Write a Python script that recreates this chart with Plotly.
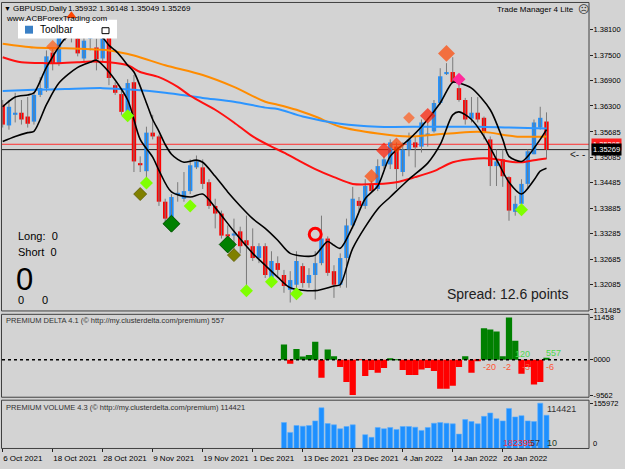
import plotly.graph_objects as go

W, H = 625, 469
FONT = "Liberation Sans, Arial, sans-serif"

# ---------------- data ----------------
tick_idx = [0, 8, 16, 24, 32, 40, 48, 56, 64, 72, 80]
tick_labels = ["6 Oct 2021", "18 Oct 2021", "28 Oct 2021", "9 Nov 2021", "19 Nov 2021",
               "1 Dec 2021", "13 Dec 2021", "23 Dec 2021", "4 Jan 2022", "14 Jan 2022",
               "26 Jan 2022"]
price_ticks = [1.38100, 1.37500, 1.36900, 1.36300, 1.35685, 1.35085, 1.34485,
               1.33885, 1.33285, 1.32685, 1.32085, 1.31485]

open_ = [1.3633, 1.3584, 1.3609, 1.3614, 1.3605, 1.3593, 1.3656, 1.3672, 1.3756, 1.3731,
         1.3812, 1.3808, 1.3789, 1.3742, 1.3789, 1.3768, 1.3742, 1.3794, 1.3679, 1.3658,
         1.3616, 1.3686, 1.3495, 1.3476, 1.3567, 1.3558, 1.3404, 1.3364, 1.3420, 1.3411,
         1.3429, 1.3485, 1.3485, 1.3450, 1.3394, 1.3376, 1.3327, 1.3324, 1.3334, 1.3313,
         1.3299, 1.3271, 1.3299, 1.3224, 1.3259, 1.3231, 1.3196, 1.3208, 1.3252, 1.3212,
         1.3231, 1.3259, 1.3317, 1.3240, 1.3208, 1.3271, 1.3348, 1.3406, 1.3394, 1.3446,
         1.3434, 1.3488, 1.3492, 1.3534, 1.3474, 1.3527, 1.3544, 1.3534, 1.3560, 1.3570,
         1.3637, 1.3705, 1.3710, 1.3672, 1.3644, 1.3600, 1.3614, 1.3602, 1.3551, 1.3488,
         1.3504, 1.3462, 1.3380, 1.3399, 1.3446, 1.3516, 1.3579, 1.35932]
high = [1.3644, 1.3644, 1.3661, 1.3644, 1.3651, 1.3663, 1.3698, 1.3761, 1.3768, 1.3812,
        1.3826, 1.3833, 1.3801, 1.3794, 1.3808, 1.3789, 1.3801, 1.3801, 1.3686, 1.3668,
        1.3693, 1.3703, 1.3511, 1.3581, 1.3609, 1.3562, 1.3411, 1.3422, 1.3450, 1.3474,
        1.3504, 1.3513, 1.3504, 1.3457, 1.3411, 1.3383, 1.3348, 1.3364, 1.3345, 1.3371,
        1.3341, 1.3306, 1.3306, 1.3287, 1.3275, 1.3243, 1.3240, 1.3287, 1.3259, 1.3247,
        1.3287, 1.3371, 1.3322, 1.3254, 1.3282, 1.3364, 1.3439, 1.3415, 1.3457, 1.3453,
        1.3504, 1.3511, 1.3551, 1.3544, 1.3544, 1.3567, 1.3558, 1.3598, 1.3591, 1.3644,
        1.3719, 1.3731, 1.3745, 1.3684, 1.3649, 1.3651, 1.3651, 1.3605, 1.3558, 1.3527,
        1.3527, 1.3464, 1.3418, 1.3457, 1.3527, 1.3598, 1.3628, 1.36148]
low = [1.3579, 1.3574, 1.3591, 1.3586, 1.3579, 1.3586, 1.3651, 1.3663, 1.3714, 1.3724,
       1.3784, 1.3780, 1.3747, 1.3735, 1.3761, 1.3714, 1.3735, 1.3679, 1.3656, 1.3609,
       1.3614, 1.3474, 1.3474, 1.3457, 1.3551, 1.3394, 1.3352, 1.3348, 1.3404, 1.3404,
       1.3422, 1.3481, 1.3434, 1.3387, 1.3341, 1.3317, 1.3317, 1.3287, 1.3282, 1.3194,
       1.3264, 1.3259, 1.3224, 1.3217, 1.3224, 1.3189, 1.3166, 1.3173, 1.3201, 1.3201,
       1.3173, 1.3254, 1.3229, 1.3177, 1.3201, 1.3201, 1.3341, 1.3380, 1.3387, 1.3427,
       1.3429, 1.3481, 1.3481, 1.3434, 1.3464, 1.3511, 1.3485, 1.3520, 1.3534, 1.3567,
       1.3633, 1.3703, 1.3684, 1.3640, 1.3586, 1.3591, 1.3591, 1.3551, 1.3441, 1.3441,
       1.3439, 1.3359, 1.3371, 1.3394, 1.3434, 1.3516, 1.3574, 1.35049]
close = [1.3586, 1.3628, 1.3614, 1.3598, 1.3588, 1.3656, 1.3672, 1.3747, 1.3731, 1.3798,
         1.3796, 1.3791, 1.3754, 1.3784, 1.3794, 1.3740, 1.3789, 1.3696, 1.3661, 1.3616,
         1.3684, 1.3499, 1.3490, 1.3567, 1.3558, 1.3404, 1.3364, 1.3415, 1.3425, 1.3429,
         1.3490, 1.3499, 1.3446, 1.3394, 1.3376, 1.3324, 1.3322, 1.3329, 1.3299, 1.3301,
         1.3271, 1.3299, 1.3231, 1.3264, 1.3243, 1.3205, 1.3219, 1.3264, 1.3212, 1.3231,
         1.3259, 1.3317, 1.3236, 1.3208, 1.3271, 1.3348, 1.3411, 1.3394, 1.3441, 1.3429,
         1.3488, 1.3504, 1.3544, 1.3481, 1.3527, 1.3551, 1.3532, 1.3591, 1.3565, 1.3637,
         1.3700, 1.3710, 1.3686, 1.3644, 1.3598, 1.3614, 1.3598, 1.3567, 1.3488, 1.3499,
         1.3464, 1.3383, 1.3399, 1.3446, 1.3523, 1.3591, 1.3602, 1.35269]

ask_price = 1.35395
bid_price = 1.35269

ma_orange_idx = [0, 5, 10, 17, 21, 26, 32, 37, 42, 44, 47, 50, 54, 60, 65, 69, 73, 76, 78, 82, 87]
ma_orange_val = [1.3777, 1.3768, 1.3766, 1.3761, 1.3749, 1.3726, 1.3703, 1.3675, 1.3640, 1.3633,
                 1.3621, 1.3605, 1.3581, 1.3565, 1.3558, 1.3562, 1.3567, 1.3569, 1.3567, 1.3558,
                 1.3558]
ma_blue_idx = [0, 5, 10, 16, 21, 26, 32, 37, 42, 44, 48, 54, 60, 68, 76, 81, 87]
ma_blue_val = [1.3665, 1.3668, 1.3670, 1.3672, 1.3668, 1.3661, 1.3649, 1.3640, 1.3626, 1.3623,
               1.3605, 1.3588, 1.3581, 1.3581, 1.3581, 1.3579, 1.3577]
ma_red_idx = [0, 3, 7, 9, 12, 14, 17, 20, 22, 25, 28, 30, 34, 37, 40, 43, 45, 47, 50, 53, 56,
              60, 63, 66, 69, 72, 76, 78, 81, 83, 85, 87]
ma_red_val = [1.3745, 1.3733, 1.3731, 1.3731, 1.3733, 1.3735, 1.3733, 1.3726, 1.3710, 1.3698,
              1.3675, 1.3654, 1.3621, 1.3591, 1.3558, 1.3534, 1.3520, 1.3504, 1.3481, 1.3462,
              1.3446, 1.3446, 1.3450, 1.3462, 1.3476, 1.3497, 1.3506, 1.3506, 1.3499, 1.3497,
              1.3502, 1.3506]
band_upper_idx = [0, 2, 4, 5, 7, 10, 12, 14, 16, 17, 18, 19, 20, 21, 23, 24, 25, 26, 27, 28,
                  29, 31, 32, 34, 36, 38, 40, 42, 44, 46, 49, 50, 52, 53, 54, 56, 58, 60, 62, 65,
                  67, 70, 72, 73, 75, 78, 80, 81, 83, 84, 86, 87]
band_upper_val = [1.3628, 1.3651, 1.3656, 1.3661, 1.3721, 1.3789, 1.3803, 1.3808, 1.3791, 1.3773,
                  1.3761, 1.3745, 1.3726, 1.3710, 1.3637, 1.3598, 1.3570, 1.3539, 1.3516, 1.3504,
                  1.3497, 1.3502, 1.3497, 1.3464, 1.3427, 1.3394, 1.3364, 1.3341, 1.3313, 1.3282,
                  1.3275, 1.3278, 1.3310, 1.3301, 1.3294, 1.3345, 1.3411, 1.3441, 1.3511, 1.3551,
                  1.3581, 1.3637, 1.3686, 1.3684, 1.3672, 1.3621, 1.3551, 1.3511, 1.3499, 1.3511,
                  1.3551, 1.3574]
band_lower_idx = [0, 2, 4, 5, 7, 9, 12, 14, 15, 17, 20, 22, 24, 25, 27, 30, 32, 34, 37, 40,
                  42, 44, 46, 50, 53, 54, 56, 60, 62, 65, 68, 70, 72, 73, 75, 77, 79, 81, 83, 85,
                  86, 87]
band_lower_val = [1.3546, 1.3558, 1.3567, 1.3570, 1.3633, 1.3684, 1.3721, 1.3733, 1.3738, 1.3710,
                  1.3644, 1.3551, 1.3509, 1.3478, 1.3427, 1.3415, 1.3422, 1.3390, 1.3334, 1.3282,
                  1.3254, 1.3226, 1.3201, 1.3194, 1.3205, 1.3208, 1.3294, 1.3387, 1.3415, 1.3457,
                  1.3495, 1.3539, 1.3609, 1.3616, 1.3598, 1.3558, 1.3504, 1.3450, 1.3422, 1.3455,
                  1.3476, 1.3483]

buy_idx = [20, 23, 30, 39, 43, 47, 83]
buy_val = [1.3607, 1.3448, 1.3394, 1.3194, 1.3215, 1.3187, 1.3385]
olive_idx = [22, 37]
olive_val = [1.3422, 1.3278]
strong_buy_idx = [27, 36]
strong_buy_val = [1.3352, 1.3303]
sell_idx = [8, 59, 61, 63, 65, 68, 71]
sell_val = [1.3770, 1.3464, 1.3525, 1.3537, 1.3602, 1.3607, 1.3754]
pink_idx = [73]
pink_val = [1.3693]
arrow_idx = [11]
arrow_val = [1.3843]
circle_idx = [50]
circle_val = [1.3327]

flow_idx = list(range(45, 88))
delta = [4135, -1074, 2954, 913, 1343, 4940, -4833, 2792, 993, -1960, -5988, -9562, -80,
         -4377, -2766, -3491, -2229, 456, 60, -2766, -4108, -4108, -2600, -2229, -3035,
         -7867, -7867, -7062, -1960, 993, -3491, -161, 8592, 8243, 7706, 993, 11458, 5209,
         -3759, -1960, -6713, -5988, 557]
volume = [89200, 55300, 79000, 76600, 79000, 94900, 140000, 85800, 81400, 67800, 75600,
          81400, 0, 47500, 38300, 72200, 67800, 72200, 65400, 75600, 75600, 73200, 62100,
          72200, 86800, 89200, 86800, 84800, 49500, 99400, 92600, 84800, 110500, 122100,
          102700, 94900, 137700, 108500, 112900, 94900, 92600, 155972, 114421]

# ---------------- figure ----------------
def px(x):
    return x / W


def py(y):
    return 1 - y / H


bars = list(range(len(open_)))
MIN_BODY = 0.00022

wick_x, wick_y = [], []
for i in bars:
    wick_x += [i, i, None]
    wick_y += [low[i], high[i], None]

up_x, up_b, up_h, dn_x, dn_b, dn_h = [], [], [], [], [], []
for i in bars:
    o, c = open_[i], close[i]
    if c >= o:
        up_x.append(i); up_b.append(o); up_h.append(max(c - o, MIN_BODY))
    else:
        dn_x.append(i); dn_b.append(c); dn_h.append(max(o - c, MIN_BODY))

fig = go.Figure()
fig.add_trace(go.Scatter(x=wick_x, y=wick_y, mode="lines",
                         line=dict(color="#7a7a7a", width=1), xaxis="x", yaxis="y"))
fig.add_trace(go.Bar(x=up_x, y=up_h, base=up_b, width=0.7,
                     marker=dict(color="#1E90FF", line=dict(width=0)), xaxis="x", yaxis="y"))
fig.add_trace(go.Bar(x=dn_x, y=dn_h, base=dn_b, width=0.7,
                     marker=dict(color="#FF0000", line=dict(width=0)), xaxis="x", yaxis="y"))

for xs, ys, col, wd in [(ma_orange_idx, ma_orange_val, "#FF8C00", 2),
                        (ma_blue_idx, ma_blue_val, "#2C95FF", 2),
                        (ma_red_idx, ma_red_val, "#FF1010", 2),
                        (band_upper_idx, band_upper_val, "#000000", 1.6),
                        (band_lower_idx, band_lower_val, "#000000", 1.6)]:
    fig.add_trace(go.Scatter(x=xs, y=ys, mode="lines",
                             line=dict(color=col, width=wd, shape="spline", smoothing=0.8),
                             xaxis="x", yaxis="y"))

# signal markers
fig.add_trace(go.Scatter(x=buy_idx, y=buy_val, mode="markers", xaxis="x", yaxis="y",
                         marker=dict(symbol="diamond", size=10, color="#7FFF00",
                                     line=dict(width=0))))
fig.add_trace(go.Scatter(x=olive_idx, y=olive_val, mode="markers", xaxis="x", yaxis="y",
                         marker=dict(symbol="diamond", size=10, color="#808000",
                                     line=dict(width=0.8, color="#5a5a00"))))
fig.add_trace(go.Scatter(x=strong_buy_idx, y=strong_buy_val, mode="markers", xaxis="x", yaxis="y",
                         marker=dict(symbol="diamond", size=13, color="#008000",
                                     line=dict(width=1, color="#005000"))))
fig.add_trace(go.Scatter(x=sell_idx, y=sell_val, mode="markers", xaxis="x", yaxis="y",
                         marker=dict(symbol="diamond",
                                     size=[10, 11, 12, 12, 9, 12, 13],
                                     color=["#FF5A10", "#FF4500", "#FF1A00", "#FF4500",
                                            "#FF5A1A", "#FF1A00", "#FF4500"],
                                     line=dict(width=0))))
fig.add_trace(go.Scatter(x=pink_idx, y=pink_val, mode="markers", xaxis="x", yaxis="y",
                         marker=dict(symbol="diamond", size=10, color="#FF2A9A",
                                     line=dict(width=0))))
fig.add_trace(go.Scatter(x=arrow_idx, y=arrow_val, mode="markers", xaxis="x", yaxis="y",
                         marker=dict(symbol="triangle-up", size=9, color="#FF4500",
                                     line=dict(width=0))))
fig.add_trace(go.Scatter(x=circle_idx, y=circle_val, mode="markers", xaxis="x", yaxis="y",
                         marker=dict(symbol="circle-open", size=12, color="#FF0000",
                                     line=dict(width=3, color="#FF0000"))))

# delta histogram
fig.add_trace(go.Bar(x=flow_idx, y=delta, width=1.0, xaxis="x", yaxis="y2",
                     marker=dict(color=["#008000" if v >= 0 else "#FF0000" for v in delta],
                                 line=dict(width=0))))
# volume histogram
fig.add_trace(go.Bar(x=flow_idx, y=volume, width=0.8, xaxis="x", yaxis="y3",
                     marker=dict(color="#1E90FF", line=dict(width=0.6, color="#5CAEFF"))))

XD = [px(2), px(589)]
axis_common = dict(showgrid=False, zeroline=False, side="right", anchor="x",
                   ticks="outside", ticklen=3, tickcolor="#222", ticklabelstandoff=-1,
                   tickfont=dict(family=FONT, size=7.5, color="#000"), showline=False)

fig.update_layout(
    width=W, height=H, autosize=False,
    margin=dict(l=0, r=0, t=0, b=0),
    paper_bgcolor="#D3D3D3", plot_bgcolor="rgba(0,0,0,0)",
    showlegend=False, barmode="overlay",
    xaxis=dict(domain=XD, range=[-0.11, 93.8], anchor="y3", showgrid=False, zeroline=False,
               tickvals=tick_idx, ticktext=tick_labels, ticks="outside", ticklen=3,
               tickcolor="#222", ticklabelposition="outside right", tickangle=0,
               ticklabelstandoff=2,
               tickfont=dict(family=FONT, size=8, color="#000"), showline=False),
    yaxis=dict(domain=[py(313.3), py(2)], range=[1.31461, 1.38730],
               tickvals=price_ticks, ticktext=["%.5f" % v for v in price_ticks], **axis_common),
    yaxis2=dict(domain=[py(400.5), py(316.7)], range=[-10149, 12351],
                tickvals=[11458, 0, -9562], ticktext=["11458", "0000", "-9562"], **axis_common),
    yaxis3=dict(domain=[py(452.3), py(403.5)], range=[0, 166147],
                tickvals=[155972], ticktext=["155972"], **axis_common),
)

shapes = []
# bid / ask lines
shapes.append(dict(type="line", xref="paper", yref="y", x0=XD[0], x1=XD[1],
                   y0=ask_price, y1=ask_price, line=dict(color="#FF3030", width=1), layer="below"))
shapes.append(dict(type="line", xref="paper", yref="y", x0=XD[0], x1=XD[1],
                   y0=bid_price, y1=bid_price, line=dict(color="#202020", width=1), layer="below"))
# delta zero line
shapes.append(dict(type="line", xref="paper", yref="y2", x0=XD[0], x1=XD[1], y0=0, y1=0,
                   line=dict(color="#000", width=1.5, dash="dot")))
# panel borders
for y0, y1 in [(1.5, 313.3), (316.7, 400.5), (403.5, 452.3)]:
    shapes.append(dict(type="rect", xref="paper", yref="paper", x0=px(1.5), x1=px(589),
                       y0=py(y1), y1=py(y0), line=dict(color="#404040", width=1),
                       fillcolor="rgba(0,0,0,0)"))
# toolbar widget
shapes.append(dict(type="rect", xref="paper", yref="paper", x0=px(18), x1=px(117),
                   y0=py(38), y1=py(19), fillcolor="#FFFFFF", line=dict(width=0)))
shapes.append(dict(type="rect", xref="paper", yref="paper", x0=px(25), x1=px(33),
                   y0=py(33), y1=py(25), fillcolor="#3A80C6", line=dict(width=0)))
shapes.append(dict(type="rect", xref="paper", yref="paper", x0=px(102), x1=px(109),
                   y0=py(33), y1=py(27), fillcolor="#FFFFFF", line=dict(width=1, color="#000")))
fig.update_layout(shapes=shapes)


def txt(x, y, s, size=8, color="#000", anchor="left", **kw):
    return dict(x=px(x), y=py(y), xref="paper", yref="paper", text=s, showarrow=False,
                xanchor=anchor, yanchor="middle",
                font=dict(family=FONT, size=size, color=color), **kw)


ann = [
    txt(2, 7.5, "▼", size=7),
    txt(11, 7.5, "GBPUSD,Daily", size=8),
    txt(66, 7.5, "1.35932 1.36148 1.35049 1.35269", size=8),
    txt(4, 18, "www.ACBForexTrading.com", size=8),
    txt(38, 29, "Toolbar", size=10),
    txt(576, 8.5, "Trade Manager 4 Lite", size=8, anchor="right"),
    txt(576, 8.5, "☹", size=11, color="#333"),
    txt(16, 237.5, "Long:  0", size=11),
    txt(16, 253.5, "Short  0", size=11),
    txt(14, 281, "0", size=31),
    txt(16, 302, "0", size=11),
    txt(40, 302, "0", size=11),
    txt(445, 296, "Spread: 12.6 points", size=14, color="#202020"),
    txt(568, 155.5, "<- -", size=10, color="#222"),
    txt(4, 323, "PREMIUM DELTA 4.1 (© http://my.clusterdelta.com/premium) 557",
        size=7.5, color="#303030"),
    txt(4, 411, "PREMIUM VOLUME 4.3 (© http://my.clusterdelta.com/premium) 114421",
        size=7.5, color="#303030"),
    txt(545, 412, "114421", size=9, color="#333"),
    txt(513, 357, "120", size=9, color="#4CD94C"),
    txt(544, 355.5, "557", size=9, color="#4CD94C"),
    txt(481, 369.5, "-20", size=9, color="#FF5533"),
    txt(501, 369.5, "-2", size=9, color="#FF5533"),
    txt(520, 369.5, "-3", size=9, color="#FF5533"),
    txt(544, 369.5, "-6", size=9, color="#FF5533"),
    txt(501, 447, "18", size=9, color="#E0305A"),
    txt(511, 447, "2395", size=9, color="#FF2020"),
    txt(528, 447, "57", size=9, color="#333"),
    txt(545, 447, "10", size=9, color="#1E3A1E"),
    txt(591, 447, "0", size=7.5),
]
# current price labels
ann.append(dict(x=px(591), y=ask_price, xref="paper", yref="y", text="1.35395",
                showarrow=False, xanchor="left", yanchor="middle", bgcolor="#FF2020",
                borderpad=1, font=dict(family=FONT, size=7.5, color="#FFFFFF")))
ann.append(dict(x=px(591), y=bid_price, xref="paper", yref="y", text="1.35269",
                showarrow=False, xanchor="left", yanchor="middle", bgcolor="#000000",
                borderpad=1, font=dict(family=FONT, size=7.5, color="#FFFFFF")))
fig.update_layout(annotations=ann)

fig.write_html("out.html", config={"displayModeBar": False},
               post_script="document.body.style.margin='0';document.body.style.overflow='hidden';")
